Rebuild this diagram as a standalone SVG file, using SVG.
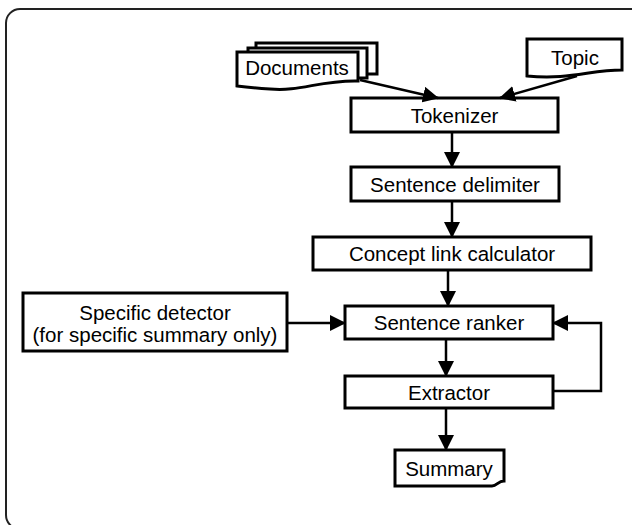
<svg xmlns="http://www.w3.org/2000/svg" width="632" height="525" viewBox="0 0 632 525">
<style>
.box{fill:#fff;stroke:#000;stroke-width:3}
.t{font-family:"Liberation Sans",Arial,sans-serif;font-size:20.5px;fill:#000;text-anchor:middle;dominant-baseline:central}
.c{fill:none;stroke:#000;stroke-width:2.5}
</style>
<defs>
<marker id="ah" markerUnits="userSpaceOnUse" markerWidth="16" markerHeight="16" viewBox="0 0 16 16" refX="15" refY="8" orient="auto">
<path d="M0,0 L16,8 L0,16 Z" fill="#000"/>
</marker>
</defs>
<rect x="6" y="9" width="640" height="520" rx="14" fill="#fff" stroke="#222" stroke-width="2"/>
<g id="documents">
<rect class="box" x="256" y="43" width="121" height="31"/>
<rect class="box" x="248" y="48" width="119" height="30"/>
<path class="box" d="M237,52 H358 V81 C320,80 300,92 270,89 C255,88 245,87 237,86 Z"/>
<text class="t" x="297" y="67">Documents</text>
</g>
<g id="topic">
<path class="box" d="M527,39 H622 V70 C590,70 570,80 527,76 Z"/>
<text class="t" x="575" y="57">Topic</text>
</g>
<g id="tokenizer">
<rect class="box" x="351" y="98" width="207" height="34"/>
<text class="t" x="454.5" y="115">Tokenizer</text>
</g>
<g id="sentence-delimiter">
<rect class="box" x="351" y="167" width="208" height="34"/>
<text class="t" x="455" y="184">Sentence delimiter</text>
</g>
<g id="concept-link-calculator">
<rect class="box" x="313" y="237" width="278" height="33"/>
<text class="t" x="452" y="253.5">Concept link calculator</text>
</g>
<g id="specific-detector">
<rect class="box" x="23" y="293" width="264" height="58"/>
<text class="t" x="155" y="312">Specific detector</text>
<text class="t" x="155" y="334">(for specific summary only)</text>
</g>
<g id="sentence-ranker">
<rect class="box" x="345" y="306" width="208" height="33"/>
<text class="t" x="449" y="322.5">Sentence ranker</text>
</g>
<g id="extractor">
<rect class="box" x="345" y="376" width="208" height="32"/>
<text class="t" x="449" y="392">Extractor</text>
</g>
<g id="summary">
<path class="box" d="M395,450 H504 V481 C498,481 497,486 492,486 H395 Z"/>
<text class="t" x="449" y="468">Summary</text>
</g>
<g id="connectors">
<line class="c" x1="360" y1="80" x2="438" y2="98" marker-end="url(#ah)"/>
<line class="c" x1="577" y1="76" x2="500" y2="98" marker-end="url(#ah)"/>
<line class="c" x1="452" y1="132" x2="452" y2="167" marker-end="url(#ah)"/>
<line class="c" x1="452" y1="201" x2="452" y2="237" marker-end="url(#ah)"/>
<line class="c" x1="448" y1="270" x2="448" y2="306" marker-end="url(#ah)"/>
<line class="c" x1="287" y1="323" x2="345" y2="323" marker-end="url(#ah)"/>
<line class="c" x1="446" y1="339" x2="446" y2="376" marker-end="url(#ah)"/>
<polyline class="c" points="553,391 601,391 601,323 553,323" marker-end="url(#ah)"/>
<line class="c" x1="446" y1="408" x2="446" y2="450" marker-end="url(#ah)"/>
</g>
</svg>
